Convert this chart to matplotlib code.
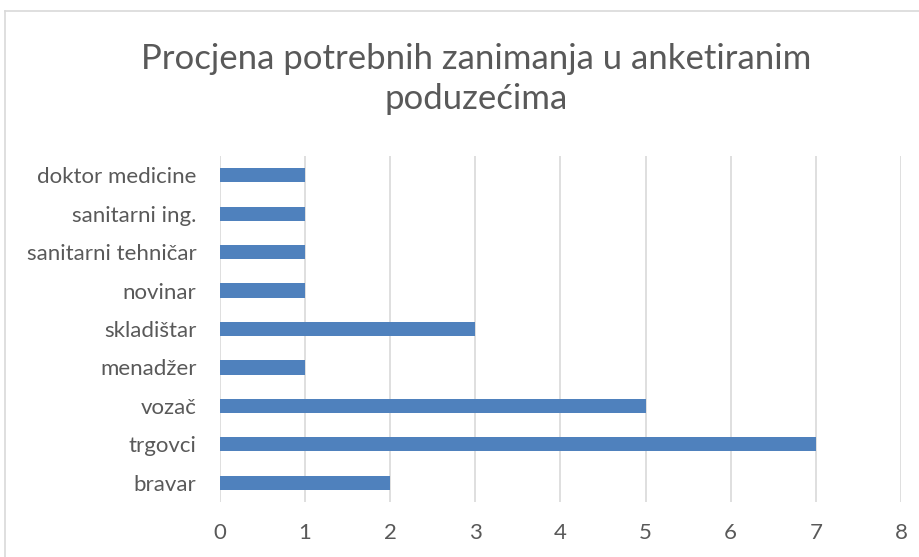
import matplotlib.pyplot as plt
from matplotlib.lines import Line2D

categories = ["bravar", "trgovci", "vozač", "menadžer", "skladištar",
              "novinar", "sanitarni tehničar", "sanitarni ing.", "doktor medicine"]
values = [2, 7, 5, 1, 3, 1, 1, 1, 1]
xticks = [0, 1, 2, 3, 4, 5, 6, 7, 8]

plt.rcParams['font.family'] = ['Lato', 'DejaVu Sans']

fig = plt.figure(figsize=(9.19, 5.57), dpi=100)
ax = fig.add_axes([0.2394, 0.0987, 0.741, 0.6213])

ax.barh(range(len(categories)), values, height=0.37, color="#4F81BD", zorder=3)
ax.set_xlim(0, 8)
ax.set_ylim(-0.5, len(categories) - 0.5)
ax.set_xticks(xticks)
ax.set_yticks(range(len(categories)))
ax.set_yticklabels(categories)
ax.grid(axis="x", color="#D9D9D9", linewidth=1.2, zorder=0)
for s in ax.spines.values():
    s.set_visible(False)
ax.tick_params(length=0, labelsize=16, labelcolor="#595959")
ax.tick_params(axis="y", pad=17)
ax.tick_params(axis="x", pad=15)

fig.text(0.518, 0.858, "Procjena potrebnih zanimanja u anketiranim\npoduzećima",
         ha="center", va="center", fontsize=25, color="#595959",
         linespacing=1.3)

# chart frame (left and top edges visible in the crop)
fig.add_artist(Line2D([5 / 919, 5 / 919], [0, 1 - 11 / 557],
                      transform=fig.transFigure, color="#D9D9D9", linewidth=1.2))
fig.add_artist(Line2D([5 / 919, 1], [1 - 11 / 557, 1 - 11 / 557],
                      transform=fig.transFigure, color="#D9D9D9", linewidth=1.2))

fig.savefig("out.png", dpi=100)
